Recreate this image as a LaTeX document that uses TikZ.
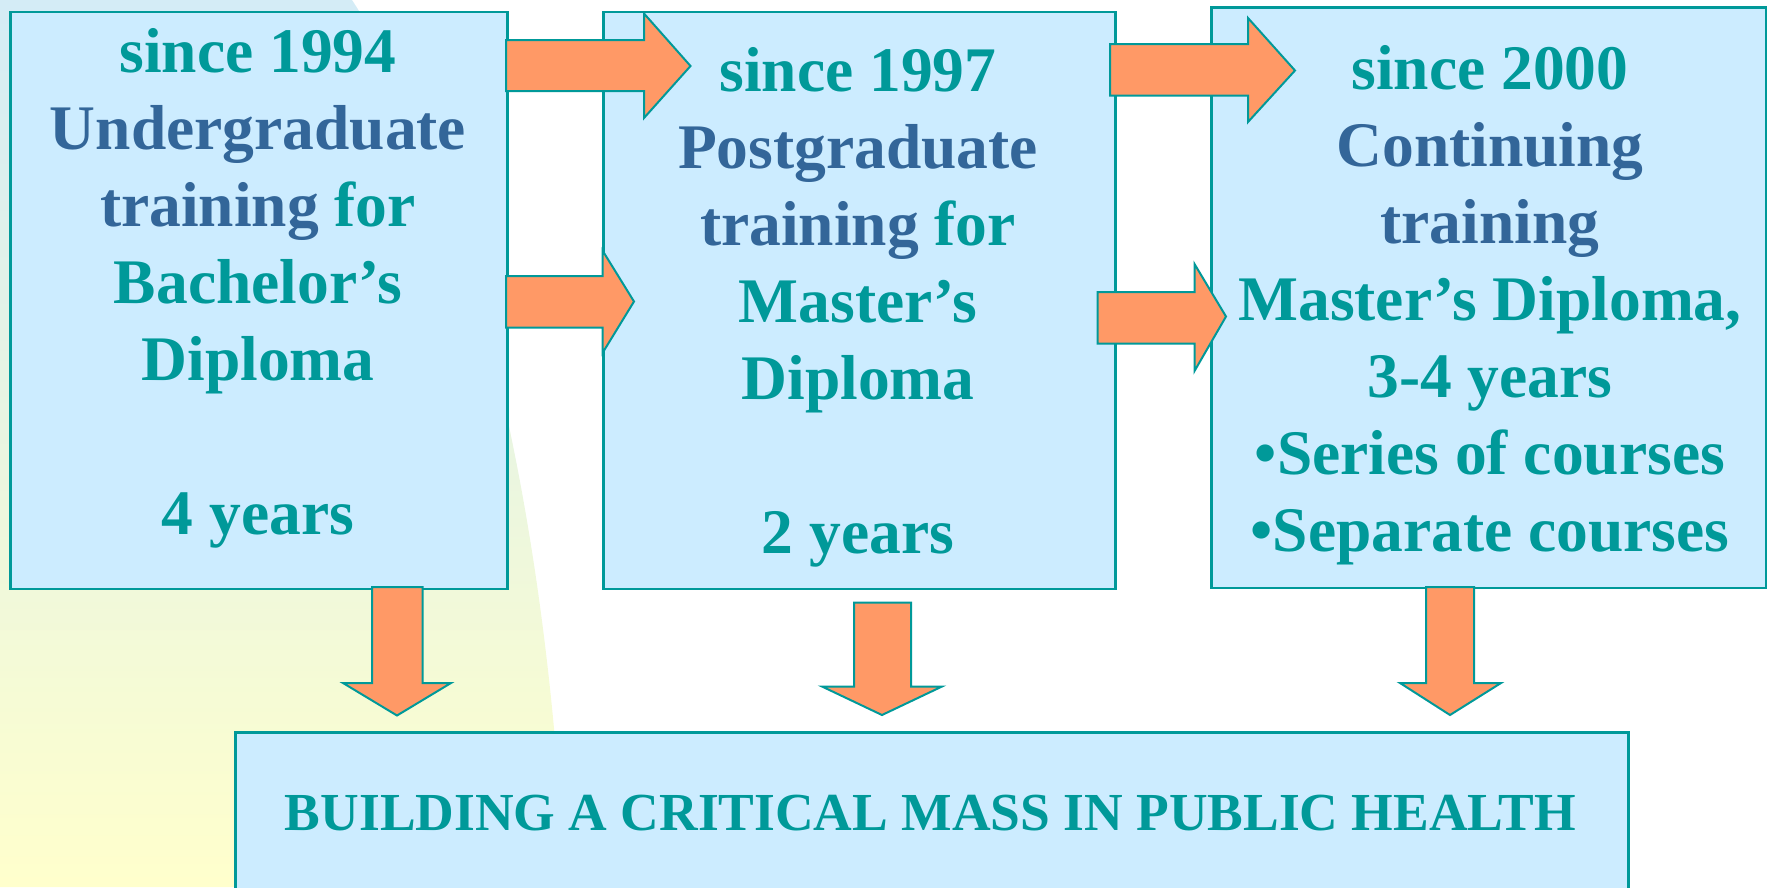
\documentclass[tikz,border=0pt]{standalone}
\usepackage{fontspec}
\setmainfont{Liberation Serif}
\definecolor{tealc}{RGB}{0,153,153}
\definecolor{bluec}{RGB}{51,102,153}
\definecolor{boxfill}{RGB}{204,236,255}
\definecolor{arrowfill}{RGB}{255,153,102}
\definecolor{bgtop}{RGB}{212,236,246}
\definecolor{bgbot}{RGB}{255,255,204}
\tikzset{
  box/.style={draw=tealc, fill=boxfill, line width=2.5pt, inner sep=0pt, anchor=north west},
  blockarrow/.style={draw=tealc, fill=arrowfill, line width=2pt, line join=miter},
  boxtext/.style={align=center, inner sep=0pt, anchor=north, text=tealc, font=\bfseries\fontsize{63.5}{77}\selectfont},
  bottomtext/.style={inner sep=0pt, anchor=base, text=tealc, font=\bfseries\fontsize{53.5}{60}\selectfont},
}
\begin{document}
\begin{tikzpicture}[x=1pt,y=-1pt]
\useasboundingbox (0,0) rectangle (1767,887);
% background shape
\shade[top color=bgtop, bottom color=bgbot] (0,0) -- (352,0) .. controls (450,150) and (545,450) .. (565,887) -- (0,887) -- cycle;
% boxes
\node[box, minimum width=497pt, minimum height=577pt] (b1) at (9,10.5) {};
\node[box, minimum width=512pt, minimum height=577pt] (b2) at (602,10.5) {};
\node[box, minimum width=555pt, minimum height=580.5pt] (b3) at (1210,6) {};
\node[box, minimum width=1393pt, minimum height=200pt] (b4) at (234,731) {};
% texts
\node[boxtext] (t1) at (258,22.3) {\rule{0pt}{50pt}since 1994\\ \textcolor{bluec}{Undergraduate}\\ \textcolor{bluec}{training} for\\ Bachelor’s\\ Diploma\\ \\ 4 years};
\node[boxtext] (t2) at (858,41.7) {\rule{0pt}{50pt}since 1997\\ \textcolor{bluec}{Postgraduate}\\ \textcolor{bluec}{training} for\\ Master’s\\ Diploma\\ \\ 2 years};
\node[boxtext] (t3) at (1490,39.5) {\rule{0pt}{50pt}since 2000\\ \textcolor{bluec}{Continuing}\\ \textcolor{bluec}{training}\\ Master’s Diploma,\\ 3-4 years\\ •Series of courses\\ •Separate courses};
\node[bottomtext] (t4) at (930.5,830.7) {BUILDING A CRITICAL MASS IN PUBLIC HEALTH};
% block arrows
\draw[blockarrow] (506,40) -- (644,40) -- (644,13.5) -- (690.5,66) -- (644,118) -- (644,91) -- (506,91) -- cycle;
\draw[blockarrow] (506,276) -- (602.5,276) -- (602.5,250.5) -- (634,301.5) -- (602.5,353) -- (602.5,327.5) -- (506,327.5) -- cycle;
\draw[blockarrow] (1110,44) -- (1248,44) -- (1248,18) -- (1295,70.5) -- (1248,122) -- (1248,95.5) -- (1110,95.5) -- cycle;
\draw[blockarrow] (1097.5,292) -- (1194.5,292) -- (1194.5,264) -- (1226,316.5) -- (1194.5,371) -- (1194.5,343.5) -- (1097.5,343.5) -- cycle;
\draw[blockarrow] (372,587) -- (372,683) -- (343,683) -- (397,715.5) -- (451,683) -- (422.5,683) -- (422.5,587) -- cycle;
\draw[blockarrow] (854,602.5) -- (854,686.5) -- (822,686.5) -- (882,715) -- (942,686.5) -- (911,686.5) -- (911,602.5) -- cycle;
\draw[blockarrow] (1426,587) -- (1426,683) -- (1400,683) -- (1450,715) -- (1501,683) -- (1474,683) -- (1474,587) -- cycle;
\end{tikzpicture}
\end{document}
